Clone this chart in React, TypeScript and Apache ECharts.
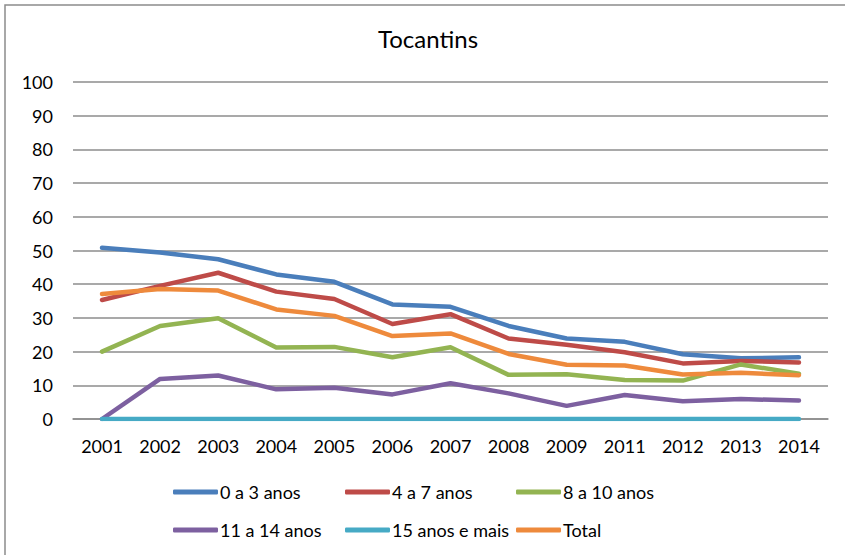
import React, { useEffect, useRef } from "react";
import * as echarts from "echarts";

const years = ["2001", "2002", "2003", "2004", "2005", "2006", "2007", "2008", "2009", "2011", "2012", "2013", "2014"];
const age0to3 = [50.8, 49.4, 47.4, 42.9, 40.7, 34.0, 33.3, 27.6, 23.9, 22.9, 19.2, 18.0, 18.3];
const age4to7 = [35.3, 39.5, 43.4, 37.8, 35.6, 28.2, 31.1, 23.9, 22.0, 19.8, 16.5, 17.2, 16.8];
const age8to10 = [20.0, 27.6, 29.9, 21.2, 21.4, 18.3, 21.3, 13.1, 13.3, 11.6, 11.4, 16.2, 13.4];
const age11to14 = [0, 11.9, 12.9, 8.8, 9.3, 7.3, 10.6, 7.6, 3.9, 7.1, 5.3, 5.9, 5.5];
const age15plus = [0, 0, 0, 0, 0, 0, 0, 0, 0, 0, 0, 0, 0];
const total = [37.1, 38.6, 38.1, 32.5, 30.6, 24.6, 25.4, 19.3, 16.1, 15.9, 13.2, 13.7, 13.0];

const seriesNames = ["0 a 3 anos", "4 a 7 anos", "8 a 10 anos", "11 a 14 anos", "15 anos e mais", "Total"];
const seriesData = [age0to3, age4to7, age8to10, age11to14, age15plus, total];
const colors = ["#4A7EBB", "#BE4B48", "#93B452", "#7D60A0", "#46AAC5", "#EE8A3C"];
const yTicks = [0, 100, 10];

const FONT = "Lato";

export default function App() {
  const ref = useRef<HTMLDivElement>(null);
  useEffect(() => {
    if (!ref.current) return;
    const chart = echarts.init(ref.current, null, { renderer: "svg" });
    const legendPos = [
      { left: 173, top: 483 },
      { left: 345, top: 483 },
      { left: 516, top: 483 },
      { left: 173, top: 521 },
      { left: 345, top: 521 },
      { left: 516, top: 521 },
    ];
    chart.setOption({
      animation: false,
      backgroundColor: "#fff",
      title: {
        text: "Tocantins",
        left: 378,
        top: 26,
        padding: 0,
        textStyle: { fontFamily: FONT, fontSize: 24, fontWeight: "normal", color: "#000" },
      },
      graphic: [
        {
          type: "rect",
          shape: { x: 5, y: 5, width: 900, height: 700 },
          style: { fill: "none", stroke: "#8c8c8c", lineWidth: 1.5 },
          silent: true,
        },
      ],
      legend: seriesNames.map((n, i) => ({
        data: [n],
        left: legendPos[i].left,
        top: legendPos[i].top,
        padding: 0,
        itemWidth: 45,
        itemHeight: 5,
        itemGap: 0,
        icon: "roundRect",
        textStyle: { fontFamily: FONT, fontSize: 18, color: "#000", padding: [0, 0, 0, -3] },
      })),
      grid: { left: 73, right: 17, top: 82, bottom: 136 },
      xAxis: {
        type: "category",
        data: years,
        boundaryGap: true,
        axisLine: { lineStyle: { color: "#8c8c8c", width: 1.5 } },
        axisTick: { show: false },
        axisLabel: { fontFamily: FONT, fontSize: 18, color: "#000", margin: 18 },
      },
      yAxis: {
        type: "value",
        min: yTicks[0],
        max: yTicks[1],
        interval: yTicks[2],
        axisLine: { show: false },
        axisTick: { show: false },
        splitLine: { lineStyle: { color: "#8c8c8c", width: 1.5 } },
        axisLabel: { fontFamily: FONT, fontSize: 18, color: "#000", margin: 20 },
      },
      series: seriesNames.map((n, i) => ({
        name: n,
        type: "line",
        data: seriesData[i],
        symbol: "none",
        color: colors[i],
        lineStyle: { width: 4.5, color: colors[i], cap: "round", join: "round" },
      })),
    });
    return () => chart.dispose();
  }, []);
  return (
    <div
      ref={ref}
      style={{ position: "fixed", left: 0, top: 0, width: 845, height: 555, background: "#fff" }}
    />
  );
}
